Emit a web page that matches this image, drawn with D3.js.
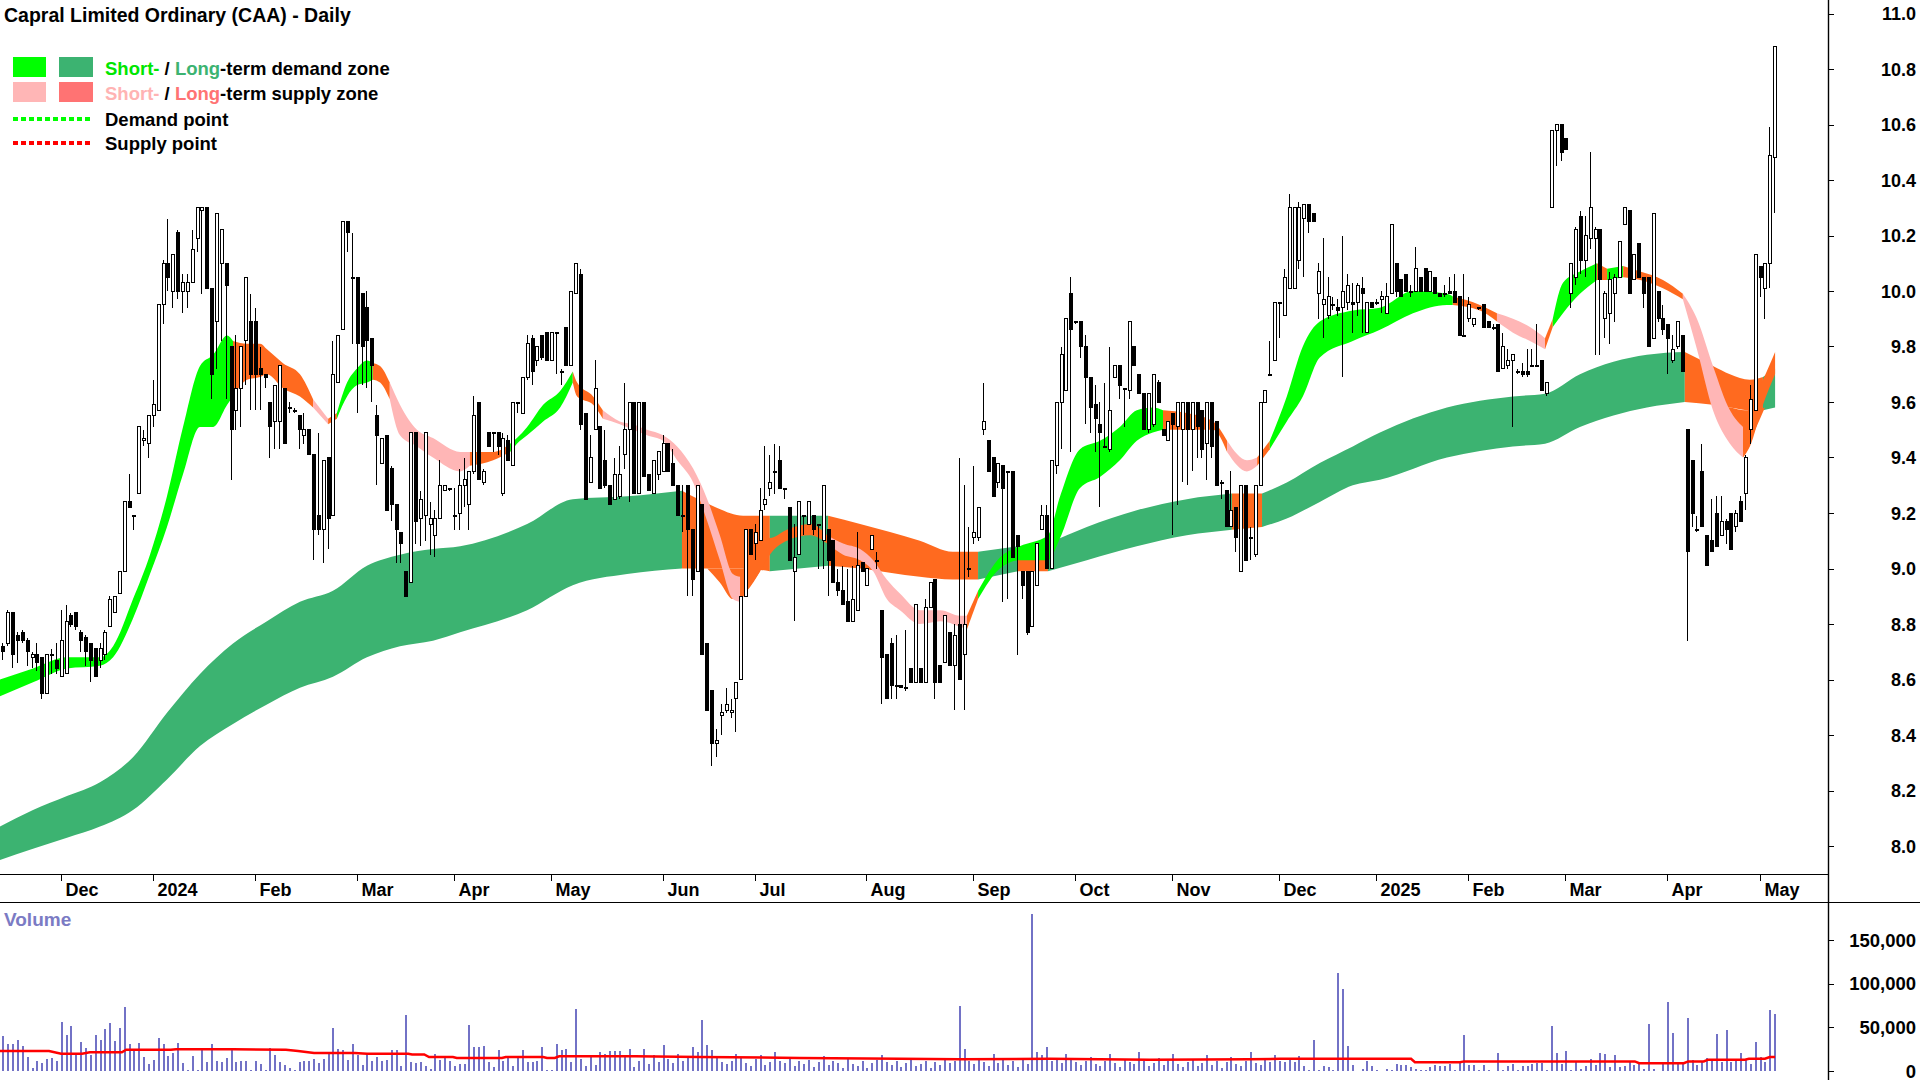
<!DOCTYPE html>
<html><head><meta charset="utf-8">
<script src="https://cdn.jsdelivr.net/npm/d3@7"></script>
<style>
html,body{margin:0;padding:0;background:#fff;}
svg{display:block;font-family:"Liberation Sans",Arial,Helvetica,sans-serif;}
</style></head>
<body><svg id="chart" width="1920" height="1080"></svg>
<script>
// ---------------- DATA ----------------
// Daily candles [open, high, low, close], 15 Nov 2023 -> early May 2025
const ohlc = [
[8.72,8.73,8.67,8.70],[8.73,8.85,8.72,8.84],[8.84,8.84,8.64,8.69],[8.76,8.77,8.66,8.74],[8.77,8.78,8.73,8.74],
[8.74,8.75,8.65,8.70],[8.68,8.70,8.64,8.69],[8.69,8.73,8.63,8.66],[8.68,8.68,8.53,8.55],[8.55,8.69,8.55,8.69],
[8.69,8.71,8.62,8.69],[8.67,8.73,8.62,8.64],[8.61,8.85,8.61,8.74],[8.62,8.87,8.62,8.81],[8.83,8.84,8.79,8.80],
[8.84,8.84,8.78,8.79],[8.77,8.78,8.70,8.74],[8.75,8.76,8.65,8.70],[8.73,8.73,8.59,8.67],[8.71,8.71,8.61,8.61],
[8.67,8.73,8.64,8.71],[8.69,8.78,8.67,8.77],[8.79,8.90,8.79,8.89],[8.84,8.90,8.84,8.90],[8.91,8.99,8.91,8.99],
[8.99,9.24,8.99,9.24],[9.24,9.34,9.22,9.22],[9.19,9.19,9.14,9.19],[9.27,9.51,9.27,9.51],[9.46,9.50,9.44,9.47],
[9.45,9.55,9.40,9.55],[9.55,9.68,9.51,9.59],[9.57,9.95,9.57,9.95],[9.95,10.11,9.88,10.10],[10.10,10.26,10.00,10.05],
[10.00,10.13,9.94,10.13],[10.21,10.22,9.97,10.00],[10.00,10.06,9.92,10.03],[10.00,10.06,9.94,10.03],[10.03,10.22,10.03,10.15],
[10.19,10.30,10.14,10.30],[10.29,10.30,9.99,10.30],[10.30,10.30,10.01,10.01],[10.01,10.01,9.61,9.70],[9.89,10.28,9.72,10.28],
[10.10,10.22,9.82,10.22],[10.10,10.10,9.61,10.02],[9.80,9.80,9.32,9.50],[9.57,9.84,9.50,9.65],[9.65,9.80,9.51,9.80],
[9.82,10.05,9.66,10.05],[9.89,9.99,9.57,9.70],[9.89,9.94,9.57,9.70],[9.72,9.80,9.57,9.70],[9.70,9.70,9.65,9.69],
[9.60,9.60,9.40,9.51],[9.53,9.66,9.43,9.66],[9.53,9.73,9.43,9.73],[9.65,9.65,9.45,9.45],[9.58,9.60,9.56,9.58],
[9.57,9.58,9.56,9.57],[9.55,9.55,9.43,9.50],[9.48,9.56,9.45,9.50],[9.50,9.50,9.41,9.41],[9.41,9.41,9.03,9.14],
[9.19,9.49,9.12,9.14],[9.14,9.39,9.02,9.39],[9.40,9.40,9.07,9.18],[9.19,9.82,9.19,9.70],[9.67,9.84,9.67,9.84],
[9.86,10.25,9.86,10.25],[10.25,10.25,10.14,10.21],[10.05,10.21,9.81,10.05],[10.05,10.05,9.56,9.81],[9.99,9.99,9.66,9.80],
[9.94,10.00,9.65,9.82],[9.83,9.83,9.60,9.73],[9.55,9.59,9.30,9.48],[9.38,9.47,9.38,9.47],[9.48,9.48,9.21,9.21],
[9.36,9.37,9.17,9.23],[9.23,9.23,9.02,9.14],[9.13,9.13,9.02,9.09],[8.99,8.99,8.90,8.90],[8.95,9.49,8.95,9.49],
[9.49,9.49,9.09,9.17],[9.18,9.28,9.08,9.25],[9.19,9.49,9.10,9.49],[9.16,9.24,9.05,9.18],[9.12,9.21,9.04,9.18],
[9.18,9.39,9.18,9.30],[9.28,9.30,9.28,9.30],[9.29,9.29,9.28,9.29],[9.19,9.29,9.14,9.19],[9.20,9.36,9.14,9.30],
[9.30,9.40,9.22,9.32],[9.23,9.35,9.14,9.35],[9.35,9.62,9.34,9.55],[9.60,9.60,9.32,9.32],[9.31,9.36,9.30,9.35],
[9.49,9.49,9.44,9.44],[9.49,9.49,9.42,9.49],[9.49,9.49,9.41,9.44],[9.27,9.49,9.26,9.47],[9.46,9.48,9.39,9.39],
[9.37,9.60,9.37,9.60],[9.60,9.60,9.56,9.60],[9.56,9.69,9.56,9.69],[9.69,9.84,9.68,9.81],[9.83,9.84,9.66,9.71],
[9.75,9.80,9.73,9.80],[9.84,9.84,9.75,9.76],[9.85,9.85,9.75,9.75],[9.75,9.85,9.75,9.85],[9.85,9.85,9.70,9.85],
[9.71,9.72,9.66,9.71],[9.87,9.87,9.73,9.73],[9.73,10.00,9.73,10.00],[9.99,10.10,9.99,10.10],[10.06,10.08,9.50,9.52],
[9.56,9.56,9.25,9.25],[9.31,9.48,9.31,9.40],[9.50,9.75,9.50,9.65],[9.51,9.51,9.29,9.29],[9.39,9.50,9.29,9.30],
[9.30,9.30,9.23,9.23],[9.25,9.40,9.25,9.34],[9.26,9.44,9.25,9.34],[9.41,9.67,9.36,9.50],[9.50,9.60,9.24,9.60],
[9.60,9.60,9.27,9.27],[9.27,9.60,9.27,9.60],[9.60,9.60,9.33,9.33],[9.34,9.34,9.28,9.28],[9.27,9.39,9.27,9.39],
[9.34,9.42,9.32,9.42],[9.35,9.48,9.35,9.45],[9.45,9.45,9.35,9.35],[9.38,9.43,9.30,9.30],[9.30,9.30,9.19,9.19],
[9.19,9.30,9.13,9.19],[9.30,9.30,8.90,9.14],[9.14,9.14,8.90,8.96],[8.99,9.30,8.99,9.30],[9.23,9.23,8.69,8.69],
[8.73,8.73,8.49,8.49],[8.56,8.56,8.29,8.37],[8.37,8.42,8.32,8.38],[8.47,8.51,8.40,8.48],[8.49,8.57,8.48,8.51],
[8.48,8.53,8.46,8.49],[8.53,8.59,8.41,8.59],[8.60,8.90,8.60,8.90],[8.90,9.14,8.90,9.14],[9.14,9.14,9.05,9.05],
[9.09,9.16,9.03,9.13],[9.10,9.29,9.10,9.21],[9.23,9.44,9.21,9.25],[9.29,9.41,9.26,9.31],[9.35,9.45,9.27,9.35],
[9.39,9.44,9.29,9.29],[9.29,9.29,9.25,9.29],[9.22,9.22,9.03,9.03],[8.99,9.16,8.81,9.04],[9.05,9.24,9.05,9.24],
[9.19,9.19,9.12,9.19],[9.16,9.24,9.16,9.24],[9.19,9.19,9.12,9.14],[9.16,9.16,9.00,9.16],[9.10,9.30,9.00,9.30],
[9.14,9.14,8.90,9.03],[9.10,9.10,8.95,8.95],[8.95,9.00,8.90,8.92],[8.92,9.01,8.87,8.87],[8.88,9.00,8.81,8.81],
[8.81,9.01,8.81,8.89],[8.85,9.13,8.85,9.01],[9.02,9.02,8.99,8.99],[8.94,9.00,8.94,9.00],[9.07,9.12,9.07,9.12],
[9.03,9.06,9.00,9.03],[8.85,8.85,8.51,8.68],[8.69,8.69,8.53,8.53],[8.73,8.75,8.53,8.58],[8.58,8.76,8.53,8.58],
[8.58,8.58,8.57,8.57],[8.57,8.78,8.56,8.57],[8.64,8.64,8.59,8.59],[8.59,8.87,8.59,8.87],[8.64,8.64,8.59,8.59],
[8.59,8.89,8.59,8.86],[8.86,8.95,8.86,8.95],[8.96,8.96,8.53,8.59],[8.65,8.65,8.59,8.59],[8.66,8.83,8.66,8.83],
[8.77,8.77,8.65,8.65],[8.65,8.80,8.49,8.76],[8.80,9.40,8.60,8.60],[8.69,9.30,8.49,8.80],[9.00,9.15,8.97,9.00],
[9.11,9.37,9.09,9.13],[9.11,9.22,9.10,9.22],[9.50,9.67,9.48,9.53],[9.46,9.46,9.35,9.35],[9.40,9.40,9.26,9.26],
[9.31,9.38,9.29,9.38],[9.37,9.37,8.88,9.29],[9.35,9.35,8.89,9.35],[9.35,9.35,9.04,9.04],[9.12,9.12,8.69,9.08],
[8.99,8.99,8.89,8.94],[8.99,8.99,8.76,8.77],[8.79,8.99,8.79,8.99],[8.94,9.09,8.94,9.09],[9.14,9.23,9.14,9.19],
[9.19,9.23,9.00,9.00],[9.00,9.39,9.00,9.39],[9.37,9.60,9.34,9.60],[9.60,9.80,9.43,9.77],[9.64,9.90,9.64,9.90],
[9.99,10.05,9.42,9.86],[9.89,9.89,9.88,9.89],[9.89,9.89,9.76,9.80],[9.80,9.84,9.52,9.69],[9.69,9.69,9.49,9.58],
[9.59,9.66,9.42,9.54],[9.52,9.60,9.22,9.49],[9.44,9.67,9.44,9.44],[9.43,9.80,9.42,9.57],[9.69,9.73,9.69,9.73],
[9.73,9.73,9.61,9.66],[9.65,9.65,9.51,9.65],[9.64,9.89,9.61,9.89],[9.80,9.80,9.73,9.73],[9.70,9.70,9.63,9.63],
[9.63,9.63,9.50,9.50],[9.50,9.63,9.49,9.63],[9.52,9.70,9.51,9.70],[9.67,9.68,9.60,9.60],[9.50,9.50,9.48,9.48],
[9.46,9.53,9.46,9.53],[9.56,9.56,9.12,9.52],[9.51,9.60,9.23,9.60],[9.50,9.60,9.31,9.60],[9.60,9.60,9.30,9.50],
[9.50,9.60,9.35,9.60],[9.60,9.60,9.40,9.51],[9.57,9.57,9.40,9.43],[9.45,9.60,9.32,9.60],[9.60,9.60,9.40,9.44],
[9.53,9.53,9.30,9.30],[9.31,9.32,9.25,9.31],[9.28,9.28,9.15,9.15],[9.15,9.35,9.15,9.21],[9.22,9.22,9.06,9.11],
[8.99,9.30,8.99,9.30],[9.30,9.30,9.03,9.03],[9.11,9.15,9.03,9.11],[9.05,9.30,9.04,9.30],[9.30,9.60,9.30,9.60],
[9.60,9.64,9.60,9.64],[9.70,9.82,9.70,9.70],[9.75,9.96,9.75,9.96],[9.96,9.96,9.83,9.96],[9.91,10.08,9.91,10.05],
[10.01,10.35,10.01,10.30],[10.01,10.30,10.01,10.30],[10.11,10.32,10.08,10.30],[10.26,10.31,10.05,10.31],[10.31,10.31,10.21,10.25],
[10.28,10.28,10.25,10.25],[9.99,10.10,9.90,10.07],[9.95,10.19,9.83,9.97],[9.91,10.05,9.90,9.98],[9.95,9.98,9.93,9.95],
[9.94,9.97,9.91,9.93],[9.94,10.20,9.69,10.00],[9.96,10.06,9.93,10.02],[9.96,10.03,9.85,9.95],[9.96,10.03,9.91,10.02],
[10.01,10.05,9.85,9.99],[9.85,9.96,9.85,9.96],[9.96,9.96,9.94,9.94],[9.96,9.97,9.95,9.96],[9.97,10.00,9.92,9.98],
[9.92,10.03,9.92,9.98],[9.99,10.24,9.99,10.24],[10.10,10.10,9.98,10.00],[10.04,10.04,9.98,9.98],[10.06,10.06,10.00,10.00],
[10.00,10.02,9.98,10.00],[10.00,10.16,10.00,10.08],[10.05,10.05,10.00,10.00],[10.08,10.08,10.00,10.00],[10.00,10.07,10.00,10.07],
[10.05,10.05,9.99,9.99],[9.99,9.99,9.98,9.98],[9.99,10.02,9.98,9.99],[10.00,10.05,9.99,9.99],[10.00,10.06,9.96,9.96],
[9.98,9.98,9.84,9.84],[9.84,10.06,9.84,9.84],[9.90,9.98,9.89,9.95],[9.88,9.90,9.87,9.90],[9.94,9.94,9.93,9.94],
[9.95,9.95,9.87,9.87],[9.89,9.89,9.87,9.87],[9.87,9.88,9.86,9.87],[9.88,9.88,9.71,9.71],[9.72,9.85,9.72,9.80],
[9.73,9.79,9.72,9.75],[9.75,9.77,9.51,9.77],[9.71,9.72,9.70,9.71],[9.71,9.74,9.69,9.70],[9.71,9.79,9.69,9.70],
[9.73,9.79,9.73,9.73],[9.73,9.88,9.73,9.73],[9.75,9.75,9.64,9.64],[9.63,9.67,9.62,9.67],[10.30,10.58,10.30,10.58],
[10.58,10.60,10.45,10.60],[10.60,10.60,10.47,10.50],[10.55,10.55,10.51,10.51],[9.99,10.10,9.94,10.10],[10.05,10.23,10.02,10.22],
[10.27,10.29,10.06,10.11],[10.11,10.27,10.05,10.20],[10.19,10.50,10.15,10.30],[10.19,10.23,9.77,10.22],[10.22,10.22,9.77,10.04],
[9.90,10.00,9.83,9.99],[9.92,10.07,9.81,10.04],[9.99,10.06,9.89,10.05],[10.05,10.18,10.05,10.18],[10.24,10.30,10.24,10.30],
[10.29,10.29,9.99,9.99],[10.04,10.13,10.04,10.13],[10.17,10.17,10.05,10.05],[10.05,10.05,9.94,9.99],[10.05,10.05,9.80,9.80],
[9.83,10.28,9.83,10.28],[10.00,10.00,9.89,9.90],[9.90,9.95,9.84,9.86],[9.88,9.88,9.70,9.83],[9.75,9.84,9.74,9.79],
[9.80,9.89,9.79,9.89],[9.84,9.84,9.71,9.71],[9.50,9.50,8.74,9.06],[9.39,9.39,9.15,9.20],[9.14,9.19,9.13,9.14],
[9.35,9.45,9.15,9.15],[9.12,9.12,9.01,9.01],[9.10,9.25,9.06,9.06],[9.20,9.26,9.08,9.08],[9.12,9.26,9.12,9.17],
[9.17,9.18,9.09,9.14],[9.20,9.20,9.07,9.07],[9.15,9.21,9.13,9.20],[9.24,9.26,9.17,9.17],[9.27,9.41,9.21,9.40],
[9.50,9.66,9.45,9.61],[9.57,10.13,9.57,10.13],[10.09,10.09,9.98,10.05],[10.01,10.10,9.90,10.10],[10.10,10.59,10.01,10.49],
[10.48,10.88,10.28,10.88]
];

// Daily volume (shares)
const volume = [
39700,31000,30500,35000,29000,16000,3800,12000,9000,14000,
15000,11000,56000,41000,52000,20600,33000,26000,18000,41000,
36000,48000,55000,34000,49000,73000,30500,23000,32000,16000,
8400,13000,38000,30500,16800,20600,32000,9000,800,16800,
800,23600,10000,30500,12000,10000,15000,24000,10000,12000,
12000,800,12000,7600,800,26000,18000,10000,6500,3800,
1500,10000,12000,12000,14000,9000,14000,20000,49000,25500,
23600,13000,31000,18000,6500,18000,12000,16000,12000,13000,
23600,23600,5300,64000,10000,9000,10000,6000,2700,19000,
13000,16800,11000,5300,7600,7600,53000,28000,27000,29000,
10000,4600,23600,12000,15000,5300,15000,23600,10000,10000,
11000,28000,800,1500,30500,24000,25500,10000,71000,14000,
5300,16800,6500,22000,20000,23000,23000,23000,18000,25500,4600,
12000,25000,8000,18000,10000,30000,14000,9000,20000,12000,16000,28000,22000,
58000,30000,24000,
15000,10000,8000,12000,20000,16000,9000,6000,14000,18000,7000,10000,22000,12000,
9000,15000,6000,11000,8000,13000,5000,10000,17000,7000,12000,9000,4000,14000,8000,6000,11000,3000,9000,13000,
18000,10000,7000,12000,5000,9000,14000,6000,8000,11000,4000,10000,7000,15000,9000,12000,
75000,
25000,12000,8000,15000,10000,6000,20000,9000,14000,7000,11000,5000,13000,8000,
180000,
22000,18000,28000,12000,15000,9000,20000,14000,10000,7000,12000,16000,8000,6000,11000,19000,9000,5000,13000,10000,
8000,22000,12000,6000,9000,15000,7000,11000,20000,8000,5000,10000,14000,6000,9000,18000,7000,12000,4000,10000,
16000,8000,6000,11000,22000,9000,7000,13000,10000,18000,12000,
10000,14000,10000,16800,5300,800,36000,800,5300,4600,
1500,112000,94000,29000,6500,300,2700,12000,5300,1500,
300,2300,1500,7600,6500,6500,4600,2700,800,1500,
4600,6500,5300,6000,7600,1500,9000,41000,7000,7000,
800,6500,1500,300,20600,1500,5300,8400,1500,6000,
6000,7600,9000,9000,1500,51000,20600,8400,23000,1500,
10000,2300,6000,14000,6500,20600,19000,4600,18000,4600,
6000,10000,6500,8400,2700,54000,2700,300,9000,78600,
44000,8400,7600,60600,13000,6500,10000,15000,13000,42700,
10000,46500,10000,12000,20600,13000,8400,33000,16000,10000,
70000,65600
];

// Volume moving average (day index, value)
const volMaIdx = [-0.5,9.6,12.1,16.4,18.0,24.6,25.5,34.7,35.8,47.5,58.4,60.9,64.2,72.6,75.1,83.6,84.4,86.9,87.9,92.8,93.6,102.9,103.7,111.4,112.2,113.8,114.7,130.3,143.7,164.3,184.9,197.3,215.8,236.4,257.0,263.2,290.2,291.0,300.3,301.1,336.3,337.2,346.4,347.3,350.5,351.4,359.0,359.8,363.1,364.1,365.2];
const volMaVal = [22900,22900,19800,19800,21400,21400,24400,24400,25000,25000,24400,22900,20600,20600,19800,19800,19000,19000,16000,16000,14900,14900,16000,16000,14900,14900,16800,16800,16000,15000,14000,13500,14000,13000,13500,14000,14000,10000,10000,11000,11000,9000,9000,11000,11000,13000,13000,14000,14000,16000,16000];

// Long-term zone (day index, upper, lower, state D=demand S=supply)
const ltIdx = [-0.5,6.3,13.3,20.1,26.9,33.9,40.7,47.5,54.5,61.3,68.1,75.1,81.9,88.7,94.3,108.1,117.5,128.7,140.0,145.8,152.6,158.1,170.1,176.7,189.0,195.8,201.0,209.2,215.4,223.4,233.7,244.0,253.3,259.5,264.6,271.4,278.2,283.8,297.6,311.2,317.8,325.0,338.8,346.6,352.4,355.9,360.0,362.7,365.2];
const ltHi  = [8.07,8.13,8.18,8.23,8.32,8.48,8.62,8.73,8.81,8.88,8.92,9.01,9.05,9.07,9.08,9.16,9.25,9.26,9.28,9.23,9.19,9.19,9.19,9.16,9.10,9.06,9.06,9.08,9.09,9.15,9.21,9.25,9.27,9.27,9.31,9.38,9.44,9.49,9.58,9.62,9.63,9.70,9.77,9.78,9.73,9.70,9.68,9.69,9.72];
const ltLo  = [7.95,7.99,8.03,8.07,8.13,8.24,8.36,8.44,8.51,8.57,8.61,8.68,8.72,8.74,8.77,8.85,8.94,8.98,9.00,9.00,9.00,8.99,9.01,9.00,8.97,8.96,8.96,8.99,8.99,9.03,9.08,9.12,9.14,9.15,9.18,9.24,9.30,9.32,9.40,9.44,9.45,9.51,9.58,9.60,9.59,9.58,9.57,9.57,9.58];
const ltState = ["D","D","D","D","D","D","D","D","D","D","D","D","D","D","D","D","D","D","S","S","S","D","S","S","S","S","D","S","D","D","D","D","S","D","D","D","D","D","D","D","D","D","D","S","S","S","S","D","D"];

// Short-term zone (day index, upper, lower, state U=demand, T=turning, P=supply)
const stIdx = [-0.5,6.3,13.3,20.1,22.8,26.9,30.4,33.9,37.2,40.7,43.4,46.3,47.5,50.4,53.1,54.5,57.8,61.3,64.0,67.1,68.9,71.0,73.0,75.1,76.3,77.8,79.8,81.9,85.4,88.7,94.3,96.3,101.1,104.6,106.0,108.1,111.4,114.9,117.5,118.4,121.7,123.7,127.2,129.9,132.8,136.1,139.0,142.3,145.2,147.8,150.5,152.0,153.4,156.1,158.1,161.6,166.4,169.9,173.2,176.7,179.4,182.2,184.9,189.0,193.2,197.3,198.7,201.0,205.5,209.6,215.4,217.9,222.0,226.1,230.2,233.7,237.0,239.1,244.0,249.4,252.3,256.4,258.5,261.1,264.6,267.9,271.4,278.2,283.8,290.6,297.6,298.8,304.4,307.9,311.2,314.7,317.8,319.4,321.5,325.0,328.5,330.6,333.9,337.4,342.1,346.2,349.1,352.4,355.9,358.6,360.0,362.7,365.2];
const stHi = [8.60,8.64,8.68,8.68,8.72,8.89,9.05,9.26,9.51,9.73,9.77,9.84,9.82,9.81,9.81,9.79,9.74,9.70,9.61,9.54,9.56,9.67,9.72,9.75,9.74,9.73,9.67,9.59,9.50,9.47,9.42,9.42,9.42,9.45,9.47,9.51,9.59,9.64,9.71,9.67,9.62,9.57,9.53,9.52,9.50,9.48,9.44,9.36,9.25,9.12,8.98,8.97,9.03,9.12,9.11,9.14,9.16,9.12,9.09,9.07,9.03,8.96,8.91,8.85,8.85,8.83,8.83,8.92,9.04,9.08,9.12,9.26,9.43,9.46,9.51,9.57,9.58,9.57,9.56,9.53,9.46,9.39,9.40,9.46,9.62,9.80,9.89,9.93,9.94,10.00,9.99,9.98,9.95,9.92,9.90,9.87,9.83,9.90,10.03,10.07,10.10,10.08,10.09,10.07,10.04,9.99,9.90,9.73,9.57,9.51,9.59,9.68,9.78];
const stLo = [8.54,8.59,8.64,8.65,8.68,8.82,8.98,9.15,9.34,9.51,9.51,9.59,9.62,9.68,9.69,9.70,9.65,9.62,9.58,9.52,9.54,9.62,9.66,9.67,9.68,9.67,9.61,9.48,9.44,9.40,9.35,9.37,9.39,9.42,9.45,9.48,9.53,9.58,9.67,9.62,9.59,9.54,9.52,9.50,9.48,9.46,9.39,9.31,9.17,9.03,8.89,8.88,8.92,8.99,9.05,9.10,9.12,9.09,9.05,9.03,8.99,8.89,8.85,8.80,8.81,8.79,8.78,8.89,9.00,9.03,9.03,9.11,9.29,9.33,9.39,9.46,9.49,9.50,9.50,9.50,9.42,9.35,9.37,9.43,9.53,9.62,9.76,9.82,9.86,9.92,9.95,9.95,9.93,9.89,9.85,9.82,9.79,9.87,9.92,9.99,10.04,10.04,10.05,10.04,10.01,9.97,9.79,9.57,9.45,9.40,9.44,9.59,9.70];
const stState = ["U","U","U","U","U","U","U","U","U","U","U","U","T","T","T","T","T","T","P","T","U","U","U","U","T","T","P","P","P","P","P","T","T","U","U","U","U","U","T","T","T","P","P","P","P","P","P","P","P","P","P","T","T","T","T","T","T","P","P","P","P","P","P","P","P","P","T","U","U","U","U","U","U","U","U","U","U","T","T","T","P","P","T","U","U","U","U","U","U","U","U","T","T","P","P","P","T","U","U","U","T","U","T","T","T","P","P","P","P","T","T","T","T"];

// Supply overhang below the long-term zone
const patchIdx = [[145.2,147.8,150.5,153.4,156.1],[352.4,355.9,359.0,361.1,363.1]];
const patchHi  = [[9.00,9.00,9.00,9.00,9.00],[9.59,9.58,9.57,9.57,9.58]];
const patchLo  = [[9.00,8.95,8.89,8.92,8.99],[9.59,9.47,9.42,9.50,9.58]];

// Axes
const monthIdx    = [12,31,52,73,93,113,136,155,178,200,221,241,263,283,302,322,343,362];
const monthLabels = ["Dec","2024","Feb","Mar","Apr","May","Jun","Jul","Aug","Sep","Oct","Nov","Dec","2025","Feb","Mar","Apr","May"];
const priceTicks  = [8.0,8.2,8.4,8.6,8.8,9.0,9.2,9.4,9.6,9.8,10.0,10.2,10.4,10.6,10.8,11.0];
const volTicks    = [0,50000,100000,150000];

// ---------------- DRAWING ----------------
const AXX = 1828, PRICE_BOTTOM = 874, SEP = 902;
const svg = d3.select("#chart");
const x  = d3.scaleLinear().domain([-0.5, 376.1]).range([0, AXX]);
const y  = d3.scaleLinear().domain([8, 11]).range([846, 13.5]);
const yv = d3.scaleLinear().domain([0, 150000]).range([1071, 940]);

const COL = {
  ltD:"#3cb371", ltS:"#ff6a1f",
  stU:"#00ff00", stT:"#ff6a1f", stP:"#ffb6b6",
  legLtS:"#ff7373"
};

svg.append("defs").append("clipPath").attr("id","pclip")
  .append("rect").attr("x",0).attr("y",0).attr("width",AXX).attr("height",PRICE_BOTTOM);
const pg = svg.append("g").attr("clip-path","url(#pclip)");

const area = d3.area().x(d=>x(d.i)).y0(d=>y(d.lo)).y1(d=>y(d.hi)).curve(d3.curveMonotoneX);

function ribbon(g, idx, hi, lo, st, cmap){
  const pts = idx.map((v,k)=>({i:v,hi:hi[k],lo:lo[k],s:st[k]}));
  let start = 0;
  for(let k=1;k<=pts.length;k++){
    if(k===pts.length || pts[k].s!==pts[start].s){
      const end = Math.min(k, pts.length-1);
      const seg = pts.slice(start, end+1);
      if(seg.length>=2) g.append("path").attr("d", area(seg)).attr("fill", cmap[pts[start].s]);
      start = k;
    }
  }
}
ribbon(pg, ltIdx, ltHi, ltLo, ltState, {D:COL.ltD, S:COL.ltS});
patchIdx.forEach((p,k)=>{
  const seg = p.map((v,j)=>({i:v,hi:patchHi[k][j],lo:patchLo[k][j]}));
  pg.append("path").attr("d", area(seg)).attr("fill", COL.ltS);
});
ribbon(pg, stIdx, stHi, stLo, stState, {U:COL.stU, T:COL.stT, P:COL.stP});

// candles
const cg = pg.append("g").attr("shape-rendering","crispEdges");
ohlc.forEach((d,i)=>{
  const [o,h,l,c] = d;
  const cx = Math.round(x(i));
  cg.append("line").attr("x1",cx+0.5).attr("x2",cx+0.5).attr("y1",y(h)).attr("y2",y(l))
    .attr("stroke","#000").attr("stroke-width",1);
  const top = y(Math.max(o,c)), bot = y(Math.min(o,c));
  const hgt = Math.max(1, bot-top);
  cg.append("rect").attr("x",cx-1).attr("y",top).attr("width",3).attr("height",hgt)
    .attr("fill", c>=o ? "#fff" : "#000").attr("stroke","#000").attr("stroke-width",1);
});

// volume bars
const vg = svg.append("g").attr("shape-rendering","crispEdges");
volume.forEach((v,i)=>{
  const cx = Math.round(x(i));
  vg.append("rect").attr("x",cx).attr("y",yv(v)).attr("width",2).attr("height",Math.max(0,yv(0)-yv(v)))
    .attr("fill","#7272c6");
});
const maLine = d3.line().x(d=>x(d[0])).y(d=>yv(d[1]));
svg.append("path").attr("d", maLine(volMaIdx.map((v,k)=>[v,volMaVal[k]])))
  .attr("fill","none").attr("stroke","#ff0000").attr("stroke-width",2.5);

// frame lines
svg.append("line").attr("x1",0).attr("x2",AXX).attr("y1",PRICE_BOTTOM+0.5).attr("y2",PRICE_BOTTOM+0.5).attr("stroke","#000").attr("stroke-width",1.2);
svg.append("line").attr("x1",0).attr("x2",1920).attr("y1",SEP+0.5).attr("y2",SEP+0.5).attr("stroke","#000").attr("stroke-width",1.2);
svg.append("line").attr("x1",AXX+0.5).attr("x2",AXX+0.5).attr("y1",0).attr("y2",1080).attr("stroke","#000").attr("stroke-width",1.4);

// price axis
const ax = svg.append("g");
priceTicks.forEach(t=>{
  ax.append("line").attr("x1",AXX).attr("x2",AXX+6).attr("y1",Math.round(y(t))+0.5).attr("y2",Math.round(y(t))+0.5).attr("stroke","#000");
  ax.append("text").attr("x",1916).attr("y",y(t)+6.5).attr("text-anchor","end")
    .attr("font-size",18).attr("font-weight","bold").text(t.toFixed(1));
});
// volume axis
volTicks.forEach(t=>{
  ax.append("line").attr("x1",AXX).attr("x2",AXX+6).attr("y1",Math.round(yv(t))+0.5).attr("y2",Math.round(yv(t))+0.5).attr("stroke","#000");
  ax.append("text").attr("x",1916).attr("y",yv(t)+6.5).attr("text-anchor","end")
    .attr("font-size",18.5).attr("font-weight","bold").text(d3.format(",")(t));
});
// month axis
monthIdx.forEach((m,k)=>{
  const mx = Math.round(x(m))+0.5;
  ax.append("line").attr("x1",mx).attr("x2",mx).attr("y1",PRICE_BOTTOM).attr("y2",PRICE_BOTTOM+7).attr("stroke","#000");
  ax.append("text").attr("x",mx+4).attr("y",896).attr("font-size",18).attr("font-weight","bold").text(monthLabels[k]);
});

// labels
svg.append("text").attr("x",4).attr("y",22).attr("font-size",19.5).attr("font-weight","bold").text("Capral Limited Ordinary (CAA) - Daily");
svg.append("text").attr("x",4).attr("y",926).attr("font-size",19).attr("font-weight","bold").attr("fill","#7b7bc4").text("Volume");

// legend
const lg = svg.append("g").attr("font-size",18.5).attr("font-weight","bold");
lg.append("rect").attr("x",13).attr("y",57).attr("width",33).attr("height",20).attr("fill",COL.stU);
lg.append("rect").attr("x",59).attr("y",57).attr("width",34).attr("height",20).attr("fill",COL.ltD);
lg.append("rect").attr("x",13).attr("y",82).attr("width",33).attr("height",20).attr("fill",COL.stP);
lg.append("rect").attr("x",59).attr("y",82).attr("width",34).attr("height",20).attr("fill",COL.legLtS);
const t1 = lg.append("text").attr("x",105).attr("y",75);
t1.append("tspan").attr("fill","#00e600").text("Short-");
t1.append("tspan").attr("fill","#000").text(" / ");
t1.append("tspan").attr("fill",COL.ltD).text("Long");
t1.append("tspan").attr("fill","#000").text("-term demand zone");
const t2 = lg.append("text").attr("x",105).attr("y",100);
t2.append("tspan").attr("fill","#ffb3b3").text("Short-");
t2.append("tspan").attr("fill","#000").text(" / ");
t2.append("tspan").attr("fill",COL.legLtS).text("Long");
t2.append("tspan").attr("fill","#000").text("-term supply zone");
lg.append("line").attr("x1",13).attr("x2",92).attr("y1",119).attr("y2",119).attr("stroke","#00ff00").attr("stroke-width",4).attr("stroke-dasharray","5,3");
lg.append("line").attr("x1",13).attr("x2",92).attr("y1",143).attr("y2",143).attr("stroke","#ff0000").attr("stroke-width",4).attr("stroke-dasharray","5,3");
lg.append("text").attr("x",105).attr("y",126).attr("fill","#000").text("Demand point");
lg.append("text").attr("x",105).attr("y",150).attr("fill","#000").text("Supply point");
</script>
</body></html>
